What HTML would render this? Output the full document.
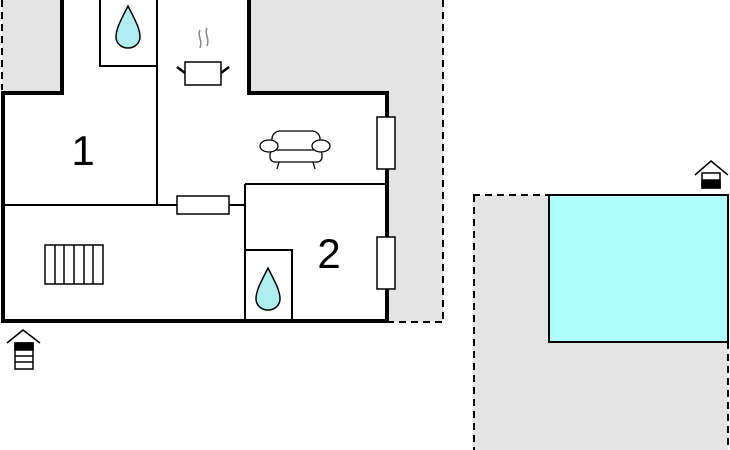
<!DOCTYPE html>
<html><head><style>body{margin:0;background:#fff}svg{display:block}</style></head><body>
<svg width="730" height="450" viewBox="0 0 730 450" xmlns="http://www.w3.org/2000/svg" font-family="Liberation Sans, sans-serif">
<rect x="2" y="0" width="60" height="92" fill="#e4e4e4"/>
<rect x="249" y="0" width="194" height="322" fill="#e4e4e4"/>
<rect x="473" y="195" width="255" height="255" fill="#e4e4e4"/>
<polygon points="3,92 62,92 62,0 249,0 249,93 387,93 387,321 3,321" fill="#fff"/>
<g stroke="#000" stroke-width="2" stroke-dasharray="7,5" fill="none">
<line x1="2" y1="0" x2="2" y2="90"/>
<line x1="443" y1="0" x2="443" y2="322"/>
<line x1="387" y1="322" x2="443" y2="322"/>
<line x1="473" y1="195" x2="549" y2="195"/>
<line x1="474" y1="195" x2="474" y2="450"/>
<line x1="728" y1="342" x2="728" y2="450"/>
</g>
<rect x="549" y="195" width="179" height="147" fill="#b0ffff" stroke="#000" stroke-width="2"/>
<g stroke="#000" stroke-width="4" fill="none">
<polyline points="62,0 62,93 3,93 3,321 387,321 387,93 249,93 249,0"/>
</g>
<g stroke="#000" stroke-width="2" fill="none">
<rect x="100" y="-2" width="57" height="68"/>
<line x1="157" y1="0" x2="157" y2="205"/>
<line x1="3" y1="205" x2="177" y2="205"/>
<line x1="229" y1="205" x2="245" y2="205"/>
<line x1="245" y1="184" x2="387" y2="184"/>
<line x1="245" y1="184" x2="245" y2="321"/>
<rect x="245" y="250" width="47" height="71"/>
</g>
<g stroke="#000" stroke-width="1.5" fill="#fff">
<rect x="177" y="196" width="52" height="18"/>
<rect x="377" y="117" width="18" height="52"/>
<rect x="377" y="237" width="18" height="52"/>
<rect x="45" y="245" width="58" height="39"/>
<path d="M55 245V284M64 245V284M74 245V284M84 245V284M93 245V284" fill="none"/>
</g>
<g fill="#aeeef0" stroke="#000" stroke-width="1.5">
<path d="M128 6 C122 18 116 28 116 37 A12 11 0 0 0 140 37 C140 28 134 18 128 6Z"/>
<path d="M268 268 C262 280 256 290 256 299 A12 11 0 0 0 280 299 C280 290 274 280 268 268Z"/>
</g>
<!-- pot -->
<g stroke="#000" stroke-width="1.5" fill="#fff">
<rect x="185" y="62" width="36" height="23"/>
<line x1="177" y1="67" x2="185" y2="73" stroke-width="2.5"/>
<line x1="229" y1="67" x2="221" y2="73" stroke-width="2.5"/>
</g>
<path d="M200 30c-3 6 3 10 0 18M207 28c-3 6 3 10 0 18" stroke="#888" stroke-width="1.5" fill="none"/>
<!-- sofa -->
<g stroke="#000" stroke-width="1.3" fill="#fff">
<rect x="272" y="131" width="48" height="28" rx="8"/>
<rect x="270" y="150" width="52" height="12" rx="5"/>
<ellipse cx="269" cy="146" rx="9" ry="6"/>
<ellipse cx="321" cy="146" rx="9" ry="6"/>
<path d="M279 162l-2 7M313 162l2 7" fill="none"/>
</g>
<text x="83" y="165" font-size="42" text-anchor="middle">1</text>
<text x="329" y="268" font-size="42" text-anchor="middle">2</text>
<!-- entrance icons -->
<g stroke="#000" stroke-width="1.5" fill="#fff">
<polyline points="7,343 23,330 40,343" fill="none"/>
<rect x="15" y="343" width="18" height="26"/>
<rect x="15" y="343" width="18" height="7" fill="#000"/>
<line x1="15" y1="356" x2="33" y2="356"/><line x1="15" y1="362" x2="33" y2="362"/>
<polyline points="695,175 711,161 728,175" fill="none"/>
<rect x="702" y="173" width="18" height="15"/>
<rect x="702" y="180" width="18" height="8" fill="#000"/>
</g>
</svg>
</body></html>
